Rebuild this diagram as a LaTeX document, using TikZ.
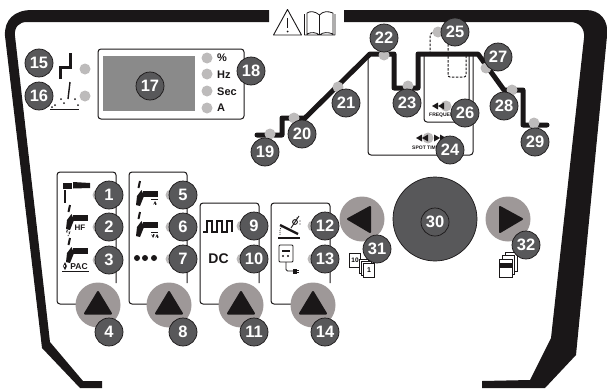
\documentclass[tikz,border=0pt]{standalone}
\usepackage{fontspec}
\setmainfont{Liberation Sans}
\definecolor{ink}{HTML}{1A1718}
\definecolor{badge}{HTML}{58585A}
\definecolor{led}{HTML}{BDBBBB}
\definecolor{btn}{HTML}{9E9898}
\definecolor{screen}{HTML}{8A8A8A}
\tikzset{
  num/.style={circle,draw=ink,line width=0.7pt,fill=badge,text=white,minimum size=28pt,inner sep=0pt,font=\fontsize{16.5}{16.5}\selectfont\bfseries},
  ledlamp/.style={circle,fill=led,minimum size=11pt,inner sep=0pt},
  btnbase/.style={circle,fill=btn,minimum size=45pt,inner sep=0pt},
  tip/.style={fill=ink,draw=ink,line width=2pt,line join=round},
  panel/.style={draw=ink,line width=1pt,rounded corners=3pt},
  lab/.style={text=ink,inner sep=0pt,font=\fontsize{11}{11}\selectfont\bfseries},
  tiny/.style={text=ink,inner sep=0pt,font=\fontsize{5}{5}\selectfont\bfseries},
  curveline/.style={draw=ink,line width=5pt,line join=round,line cap=round},
  dashline/.style={draw=ink,line width=1pt,dash pattern=on 2.5pt off 1.5pt,rounded corners=2pt},
  card/.style={draw=ink,fill=white,line width=0.7pt}
}
\newcommand{\torch}[2]{%
  \fill[ink] (#1,#2) rectangle (#1+15,#2+5.5);
  \fill[ink] (#1-1.5,#2-1) -- (#1+1,#2+5) -- (#1-3,#2+15) -- (#1-7,#2+14) -- (#1-6,#2+5) -- cycle;
  \draw[ink,line width=2pt] (#1-3,#2-10) -- (#1-4.5,#2-3);
}
\newcommand{\twotri}[2]{%
  \fill[ink] (#1,#2-3.5) -- (#1,#2+3.5) -- (#1-6,#2) -- cycle;
  \fill[ink] (#1+6,#2-3.5) -- (#1+6,#2+3.5) -- (#1,#2) -- cycle;
}
\begin{document}
\begin{tikzpicture}[x=1pt,y=-1pt]
\useasboundingbox (0,0) rectangle (607,388);
% frame
\fill[ink] (269,10) -- (32,10) .. controls (14,10) and (4,20) .. (5,36)
  -- (42,348) -- (80,388) -- (102,388) -- (102,381) -- (83,381) -- (50,342)
  -- (15,36) .. controls (14,27) and (19,22) .. (27,22) -- (269,22) -- cycle;
\fill[ink] (344,10) -- (586,10) .. controls (600,10) and (609,20) .. (607,36)
  -- (576,355) -- (545,388) -- (482,388) -- (482,381) -- (530,380) -- (551,338)
  -- (584,38) .. controls (585,28) and (579,22) .. (570,22) -- (344,22) -- cycle;
% warning + book
\draw[ink,line width=0.9pt,line join=round] (287.5,9.5) -- (273.5,35) -- (301.5,35) -- cycle;
\draw[ink,line width=1.2pt] (287.5,18) -- (287.5,28);
\fill[ink] (287.5,31.5) circle (1);
\draw[ink,line width=0.8pt,line join=round] (319.5,15) .. controls (315,11) and (310,11) .. (307,13) -- (307,34) .. controls (311,32) and (316,32) .. (319.5,35) .. controls (323,32) and (328,32) .. (333,34) -- (333,13) .. controls (328,11) and (323,11) .. (319.5,15) -- cycle (304.5,14) -- (304.5,35) -- (335,35) -- (335,14) (319.5,15) -- (319.5,35);
% display
\draw[panel] (98,49) rectangle (244,119);
\fill[screen] (103,56) rectangle (195,111);
\node[lab,anchor=west] (tp) at (217,58) {\%};
\node[lab,anchor=west] (th) at (217,75) {Hz};
\node[lab,anchor=west] (ts) at (217,91.5) {Sec};
\node[lab,anchor=west] (ta) at (217,108) {A};
\foreach \n/\x/\y in {a/207/58,b/207/74,c/207/91,d/207/108,e/85/69,f/85/96}{\node[ledlamp] (l\n) at (\x,\y) {};}
% symbols 15 16
\draw[ink,line width=3pt] (60,79) -- (60,67) -- (70,67) -- (70,53);
\draw[ink,line width=1.4pt] (70,82) -- (68,99);
\draw[ink,line width=1pt] (50,109) -- (79,109);
\foreach \x/\y in {55/105,61/99,75/99,78/105,52/107,64/103}{\fill[ink] (\x,\y) circle (1);}
% time curve boxes
\draw[panel] (368,54) -- (368,155) -- (473,155) -- (473,54);
\draw[panel] (424,54) -- (424,122) -- (469,122) -- (469,54);
\draw[dashline] (430,54) -- (430,33) -- (438,32);
\draw[dashline] (448,40) -- (448,77) -- (466,77) -- (466,54);
\draw[curveline] (257,135) -- (282,135) -- (282,118) -- (305,118) -- (370,54) -- (394,54) -- (394,88) -- (418,88) -- (418,54) -- (478,54) -- (504,90) -- (523,90) -- (523,125) -- (547,125);
\foreach \n/\x/\y in {A/270/134,B/294/118,C/338/87,D/384/55,E/408/86,F/428/138,G/438/32,H/446/106,I/486/68,J/512/90,K/534/123}{\node[ledlamp] (l\n) at (\x,\y) {};}
\twotri{438}{106}
\twotri{422}{138}
\fill[ink] (434,134.5) -- (434,141.5) -- (440,138) -- cycle;
\fill[ink] (440,134.5) -- (440,141.5) -- (446,138) -- cycle;
\node[tiny,anchor=west] (tf) at (429,115) {FREQUENCY};
\node[tiny,anchor=west] (tt) at (412,148) {SPOT TIME};
% mode panels
\draw[panel] (116,283) -- (116,172) -- (57,172) -- (57,304) -- (80,304);
\draw[panel] (187,283) -- (187,172) -- (129,172) -- (129,304) -- (150,304);
\draw[panel] (259,283) -- (259,203) -- (200,203) -- (200,304) -- (222,304);
\draw[panel] (330,283) -- (330,203) -- (271,203) -- (271,304) -- (295,304);
% panel leds
\foreach \n/\x/\y in {a/98/195,b/98/227,c/98/260,d/171/195,e/171/227,f/171/259,g/242/226,h/242/259,i/313/226,j/313/259}{\node[ledlamp] (m\n) at (\x,\y) {};}
% buttons
\foreach \n/\x/\y in {a/98/305,b/169/305,c/241/305,d/313/305}{
  \node[btnbase] (b\n) at (\x,\y) {};
  \draw[tip] (\x,\y-13) -- (\x-13,\y+8.5) -- (\x+13,\y+8.5) -- cycle;
}
\node[btnbase] (bl) at (362,219) {};
\draw[tip] (348,219) -- (370,207) -- (370,232) -- cycle;
\node[btnbase] (br) at (508,219) {};
\draw[tip] (500,207) -- (500,232) -- (522,219) -- cycle;
\node[circle,draw=ink,line width=0.7pt,fill=badge,minimum size=84pt,inner sep=0pt] (wheel) at (435,219) {};
% icon 1
\fill[ink] (63,183) rectangle (72,189);
\fill[ink] (73,182) -- (90,183) -- (90,188) -- (73,188.5) -- cycle;
\draw[ink,line width=1.2pt] (65,190) -- (65,203);
% torches
\torch{73}{215}
\torch{73}{248}
\torch{143}{191}
\torch{143}{222}
\node[lab,font=\fontsize{8}{8}\selectfont\bfseries] (thf) at (80,228) {HF};
\draw[ink,line width=0.7pt,dash pattern=on 1.5pt off 1pt] (69,228) -- (66,232) -- (70,232) -- (68,236);
\node[lab,font=\fontsize{8.5}{8.5}\selectfont\bfseries] (tpac) at (79,266.5) {PAC};
\draw[ink,line width=0.8pt,<->,>=stealth] (65,262) -- (65,270);
\draw[ink,line width=1.1pt] (62,271.5) -- (89,271.5);
\draw[ink,line width=0.8pt] (151,199) -- (158,199);
\draw[ink,line width=0.6pt,->,>=stealth] (155,205) -- (155,201);
\draw[ink,line width=0.8pt] (151,232.5) -- (158,232.5);
\draw[ink,line width=0.6pt,->,>=stealth] (153,234) -- (153,238);
\draw[ink,line width=0.6pt,->,>=stealth] (157,238) -- (157,234);
\foreach \x in {137,145,154}{\fill[ink] (\x,258) circle (3);}
% pulse
\draw[ink,line width=1.5pt,line join=miter] (203,232) -- (207,232) -- (207,221) -- (212,221) -- (212,232) -- (217,232) -- (217,221) -- (222,221) -- (222,232) -- (227,232) -- (227,221) -- (232,221) -- (232,232);
\node[lab,font=\fontsize{14}{14}\selectfont\bfseries] (tdc) at (218.5,258.5) {DC};
% pedal
\fill[ink] (278,237) rectangle (300,239);
\draw[ink,line width=2.4pt] (280,225) -- (298,234);
\draw[ink,line width=0.7pt,dash pattern=on 1pt off 1pt] (280,235) .. controls (279,232) and (280,229) .. (282,226);
\draw[ink,line width=0.9pt] (295,222) circle (2.4);
\draw[ink,line width=0.9pt] (291,228) -- (299,216);
\foreach \x/\y in {300/221,300/224,297/218}{\fill[ink] (\x,\y) circle (0.6);}
% meter
\draw[ink,line width=0.9pt,rounded corners=1pt] (279,245) rectangle (293,262);
\fill[ink] (282,250) rectangle (290,251.5);
\fill[ink] (283,256) circle (1.2);
\fill[ink] (288,256) circle (1.2);
\draw[ink,line width=0.8pt,rounded corners=1.5pt] (286,262) -- (286,271) -- (294,271);
\fill[ink] (293,268.5) rectangle (296.5,273.5);
\draw[ink,line width=0.7pt] (296.5,270) -- (299,270) (296.5,272) -- (299,272);
% cards left
\node[card,minimum width=11pt,minimum height=14pt,inner sep=0pt,font=\fontsize{6.5}{6.5}\selectfont\bfseries] (c10) at (355,260) {10};
\draw[card] (359,259) rectangle (368,273);
\draw[card] (361.5,261.5) rectangle (371,275);
\node[card,minimum width=11pt,minimum height=14pt,inner sep=0pt,font=\fontsize{7}{7}\selectfont\bfseries] (c1) at (369,270) {1};
% cards right
\draw[card] (505,252) rectangle (517,271);
\draw[card] (502,255) rectangle (514,274);
\draw[card] (499,259) rectangle (512,277);
\fill[ink] (499,262.5) rectangle (512,268);
% numbers
\foreach \t/\x/\y in {1/109/195,2/109/227,3/109/260,4/109/332,5/183/195,6/183/227,7/183/259,8/183/332,9/254/226,10/254/259,11/254/332,12/325/226,13/325/259,14/325/332,15/39/63,16/39/96,17/150/86,18/251/71,19/265/152,20/302/134,21/346/103,22/384/38,23/407/103,24/450/150,25/455/32,26/465/113,27/498/57,28/504/106,29/535/142,30/435/222,31/377/249,32/526/245}{
  \node[num] (n\t) at (\x,\y) {\t};
}
\end{tikzpicture}
\end{document}
